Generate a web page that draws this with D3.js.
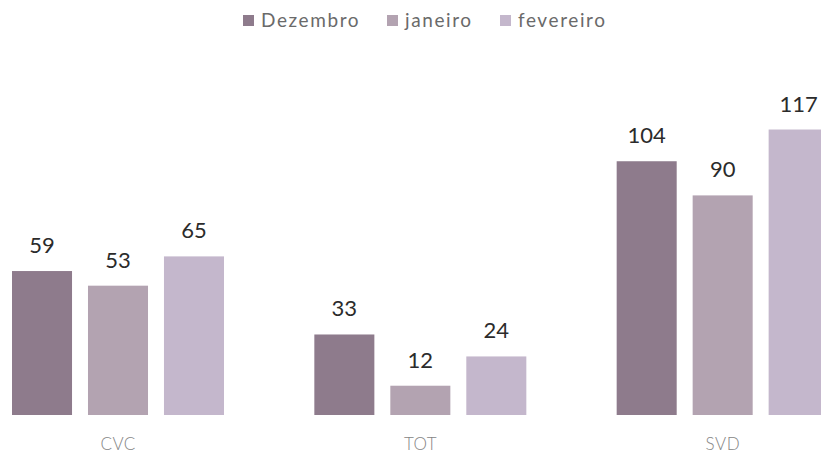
<!DOCTYPE html>
<html><head><meta charset="utf-8">
<script src="https://cdn.jsdelivr.net/npm/d3@7"></script>
<style>html,body{margin:0;padding:0;background:#fff;overflow:hidden}</style>
</head><body>
<svg id="c" width="821" height="459"></svg>
<script>
const categories = ["CVC", "TOT", "SVD"];
const series = ["Dezembro", "janeiro", "fevereiro"];
const dezembro = [59, 33, 104];
const janeiro = [53, 12, 90];
const fevereiro = [65, 24, 117];
const colors = ["#8e7b8c", "#b3a3b1", "#c4b7cc"];

const values = [dezembro, janeiro, fevereiro];
const svg = d3.select("#c");
const font = "Lato, 'Open Sans', sans-serif";

const x0 = d3.scaleBand().domain(categories).range([-33, 874]).padding(0);
const x1 = d3.scaleBand().domain(series).range([45, 257]).paddingInner(0.21).paddingOuter(0);
const y = d3.scaleLinear().domain([0, 120]).range([415, 122.2]);
const color = d3.scaleOrdinal().domain(series).range(colors);

const data = [];
categories.forEach((c, i) => series.forEach((s, j) => data.push({c, s, v: values[j][i]})));

const g = svg.append("g");
g.selectAll("rect").data(data).join("rect")
  .attr("x", d => x0(d.c) + x1(d.s))
  .attr("y", d => y(d.v))
  .attr("width", x1.bandwidth())
  .attr("height", d => y(0) - y(d.v))
  .attr("fill", d => color(d.s));

g.selectAll("text.val").data(data).join("text").attr("class", "val")
  .attr("x", d => x0(d.c) + x1(d.s) + x1.bandwidth() / 2)
  .attr("y", d => y(d.v) - 18)
  .attr("text-anchor", "middle")
  .attr("font-family", font).attr("font-size", 22).attr("fill", "#2b2b2b")
  .text(d => d.v);

// category axis labels
const xAxis = d3.axisBottom(x0).tickSize(0).tickPadding(0);
const ax = svg.append("g").attr("transform", "translate(0,438)").call(xAxis);
ax.select(".domain").remove();
ax.selectAll("text").attr("font-family", font).attr("font-weight", 300)
  .attr("font-size", 17).attr("letter-spacing", 0.5).attr("fill", "#858585");

// legend
const swatchX = [243, 387, 500];
const lg = svg.append("g");
series.forEach((s, i) => {
  lg.append("rect").attr("x", swatchX[i]).attr("y", 15).attr("width", 11).attr("height", 11).attr("fill", color(s));
  lg.append("text").attr("x", swatchX[i] + 18).attr("y", 27)
    .attr("font-family", font).attr("font-size", 19).attr("letter-spacing", 1.6)
    .attr("fill", "#6a6a6a").text(s);
});
</script>
</body></html>
